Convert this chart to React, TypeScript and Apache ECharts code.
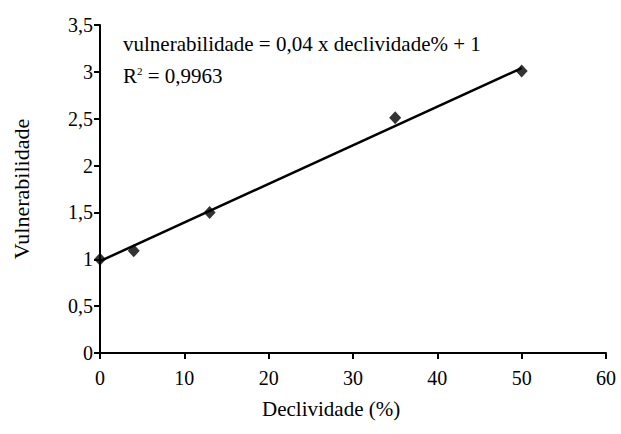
import React, { useEffect, useRef } from "react";
import * as echarts from "echarts";

const slopes: number[] = [0, 4, 13, 35, 50];
const vulnerability: number[] = [1.0, 1.09, 1.5, 2.51, 3.01];
const trendX: number[] = [0, 50];
const trendY: number[] = [0.98, 3.04];
const equationText = "vulnerabilidade = 0,04 x declividade% + 1";
const r2Text = "0,9963";
const xTitle = "Declividade (%)";
const yTitle = "Vulnerabilidade";

const FONT = "'Liberation Serif', 'Times New Roman', serif";

export default function App() {
  const ref = useRef<HTMLDivElement>(null);
  useEffect(() => {
    if (!ref.current) return;
    const chart = echarts.init(ref.current, null, { renderer: "svg" });
    const points = slopes.map((x, i) => [x, vulnerability[i]]);
    const trend = trendX.map((x, i) => [x, trendY[i]]);
    chart.setOption({
      animation: false,
      backgroundColor: "#fff",
      textStyle: { fontFamily: FONT },
      grid: { left: 100, right: 15, top: 25, bottom: 81 },
      xAxis: {
        type: "value",
        min: 0,
        max: 60,
        interval: 10,
        splitLine: { show: false },
        axisLine: { show: true, lineStyle: { color: "#000", width: 2 } },
        axisTick: { show: true, inside: false, length: 6, lineStyle: { color: "#000", width: 2 } },
        axisLabel: { color: "#000", fontFamily: FONT, fontSize: 20, margin: 15, showMaxLabel: true },
      },
      yAxis: {
        type: "value",
        min: 0,
        max: 3.5,
        interval: 0.5,
        name: yTitle,
        nameLocation: "middle",
        nameGap: 68,
        nameTextStyle: { color: "#000", fontFamily: FONT, fontSize: 22 },
        splitLine: { show: false },
        axisLine: { show: true, lineStyle: { color: "#000", width: 2 } },
        axisTick: { show: true, inside: false, length: 6, lineStyle: { color: "#000", width: 2 } },
        axisLabel: {
          color: "#000",
          fontFamily: FONT,
          fontSize: 20,
          margin: 7,
          formatter: (v: number) => String(v).replace(".", ","),
        },
      },
      series: [
        {
          type: "line",
          data: trend,
          symbol: "none",
          lineStyle: { color: "#000", width: 2.5 },
          z: 2,
        },
        {
          type: "scatter",
          data: points,
          symbol: "diamond",
          symbolSize: [12, 13],
          itemStyle: { color: "#000" },
          z: 3,
        },
      ],
      graphic: [
        {
          type: "text",
          left: 123,
          top: 33,
          style: { text: equationText, fontFamily: FONT, fontSize: 21, fill: "#000" },
        },
        {
          type: "text",
          left: 123,
          top: 65,
          style: {
            text: "R{s|2} = " + r2Text,
            fontFamily: FONT,
            fontSize: 21,
            fill: "#000",
            rich: {
              s: { fontSize: 11, fontFamily: FONT, verticalAlign: "top", padding: [0, 0, 8, 0] },
            },
          },
        },
        {
          type: "text",
          left: 262,
          top: 398,
          style: { text: xTitle, fontFamily: FONT, fontSize: 21, fill: "#000" },
        },
      ],
    });
    return () => chart.dispose();
  }, []);
  return (
    <div
      ref={ref}
      style={{ position: "fixed", left: 0, top: 0, width: 621, height: 434, overflow: "visible" }}
    />
  );
}
